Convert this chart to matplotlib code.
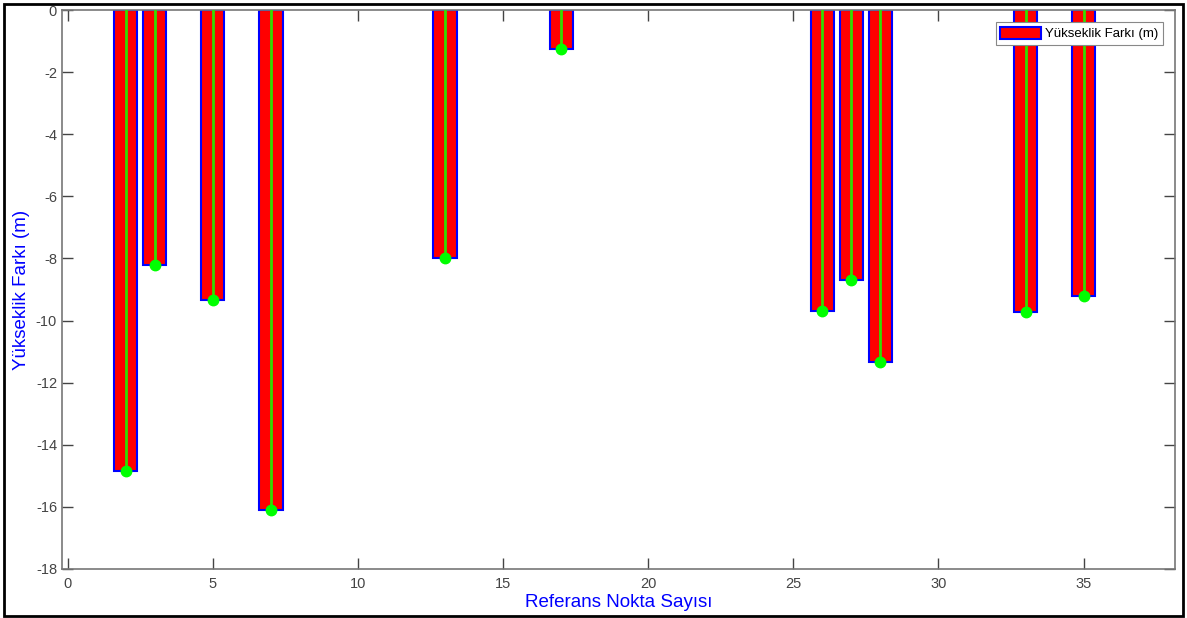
import matplotlib.pyplot as plt
from matplotlib.patches import Rectangle

# reference points and height differences (m)
points = [2, 3, 5, 7, 13, 17, 26, 27, 28, 33, 35]
height_diff = [-14.85, -8.2, -9.35, -16.1, -8.0, -1.25, -9.7, -8.7, -11.35, -9.72, -9.2]

plt.rcParams['font.family'] = ['Liberation Sans', 'DejaVu Sans']
plt.rcParams['axes.unicode_minus'] = False

fig = plt.figure(figsize=(11.87, 6.18), dpi=100)
ax = fig.add_axes([0.0522, 0.0793, 0.9377, 0.9045])

ax.bar(points, height_diff, width=0.8, color='red', edgecolor='blue',
       linewidth=1.5, label='Yükseklik Farkı (m)', zorder=2)
for x, y in zip(points, height_diff):
    ax.plot([x, x], [0, y], color='#33dd00', linewidth=2, zorder=3)
ax.plot(points, height_diff, 'o', color='#00ff00', markersize=7.5, zorder=4)

ax.set_xlim(-0.2, 38.15)
ax.set_ylim(-18, 0)
ax.set_xticks(range(0, 36, 5))
ax.set_yticks(range(-18, 1, 2))
ax.tick_params(direction='in', top=True, right=True, length=8, width=1,
               colors='#444444', labelsize=10.5)
ax.tick_params(axis='x', pad=6)
for s in ax.spines.values():
    s.set_color('#777777')
    s.set_linewidth(1.2)

ax.set_xlabel('Referans Nokta Sayısı', color='blue', fontsize=13.5, labelpad=2)
ax.set_ylabel('Yükseklik Farkı (m)', color='blue', fontsize=13.5, labelpad=4)

leg = ax.legend(loc='upper right', fontsize=9.5, fancybox=False, framealpha=1,
                edgecolor='#888888', borderaxespad=0.9, handlelength=3.1,
                handleheight=1.1, handletextpad=0.3, borderpad=0.35)
leg.get_frame().set_linewidth(0.8)

# outer frame around the whole figure
fig.patches.append(Rectangle((0.003, 0.004), 0.994, 0.99, transform=fig.transFigure,
                             fill=False, edgecolor='black', linewidth=2))

fig.savefig('out.png', dpi=100)
